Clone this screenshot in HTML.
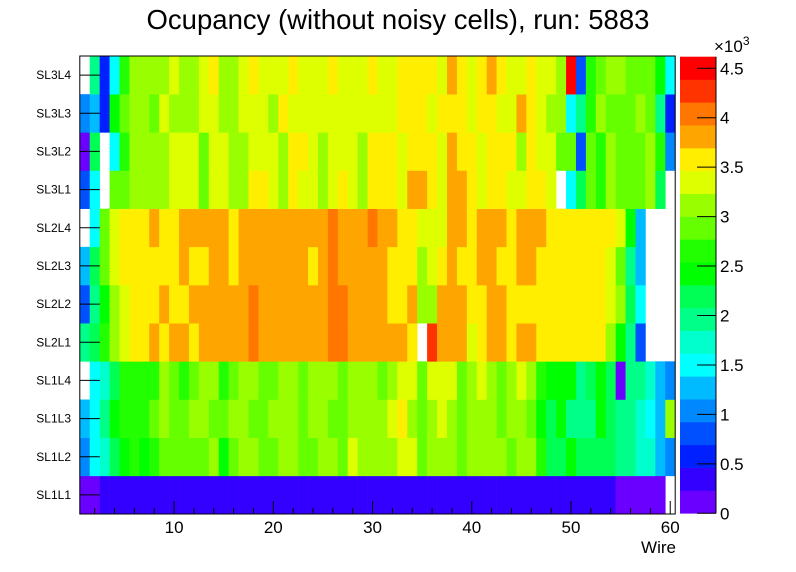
<!DOCTYPE html>
<html><head><meta charset="utf-8"><style>
html,body{margin:0;padding:0;background:#fff;width:796px;height:572px;overflow:hidden}
svg{display:block;font-family:"Liberation Sans",Arial,sans-serif}
</style></head><body>
<svg id="chart" width="796" height="572" viewBox="0 0 796 572">
<text x="398" y="29" text-anchor="middle" font-size="27.5">Ocupancy (without noisy cells), run: 5883</text>
<g id="cells"></g>
<g id="axes"></g>
<g id="pal"></g>
</svg>
<script>
const layers = ["SL1L1","SL1L2","SL1L3","SL1L4","SL2L1","SL2L2","SL2L3","SL2L4","SL3L1","SL3L2","SL3L3","SL3L4"];
const xTicks = [10,20,30,40,50,60];
const zTicks = [0,0.5,1,1.5,2,2.5,3,3.5,4,4.5];
const zMax = 4617;
const rowSL1L1 = [120,120,350,350,350,350,350,350,350,350,350,350,350,350,350,350,350,350,350,350,350,350,350,350,350,350,350,350,350,350,350,350,350,350,350,350,350,350,350,350,350,350,350,350,350,350,350,350,350,350,350,350,350,350,120,120,120,120,120,0];
const rowSL1L2 = [1040,1500,1730,2190,2420,2650,2420,2650,2890,2890,2890,2890,2890,3120,2420,2890,3120,3120,2890,2890,3120,3120,2890,2890,3120,3120,2890,3350,3120,3120,3120,3120,3350,3350,2890,3120,3120,3120,2890,3120,3120,3120,3120,2890,3120,3120,2650,2190,2190,2420,2190,2190,2190,2190,1960,1960,1730,1730,1270,1040];
const rowSL1L3 = [1270,1500,1960,2420,2650,2650,2650,2890,3120,2890,2890,3120,3120,2890,2890,3120,3120,2890,2890,3120,3120,3120,2890,3120,3120,2890,2890,3120,3120,3120,3120,3350,3580,3120,2890,3120,3350,3120,2890,3120,3120,3120,2890,3120,3120,2890,2420,2190,2420,1960,1960,1960,2420,2190,1960,1960,1730,1500,1270,3120];
const rowSL1L4 = [0,1500,1730,2190,2650,2650,2650,2650,3120,2890,2650,2890,3120,3120,2650,2890,3120,3120,2890,2890,3120,3120,2890,3120,3120,3120,2890,3120,3120,3120,2890,3120,3350,3350,2890,3350,3350,3350,2890,3120,3350,3120,2890,3120,3350,3120,2650,2420,2420,2420,1960,2190,2420,2190,120,1960,1960,1730,1270,1040];
const rowSL2L1 = [1960,2190,2650,3120,3350,3580,3580,3810,3580,3810,3810,3580,3810,3810,3810,3810,3810,4040,3810,3810,3810,3810,3810,3810,3810,4040,4040,3810,3810,3810,3810,3810,3810,3580,0,4270,3810,3810,3810,3350,3580,3810,3810,3580,3810,3810,3580,3580,3580,3580,3580,3580,3580,3120,2420,1960,810,0,0,0];
const rowSL2L2 = [810,1960,2420,3120,3350,3580,3580,3580,3810,3580,3580,3810,3810,3810,3810,3810,3810,4040,3810,3810,3810,3810,3810,3810,3810,4040,4040,3810,3810,3810,3810,3580,3580,3810,3120,3120,3810,3810,3810,3580,3580,3810,3810,3580,3580,3580,3580,3580,3580,3580,3580,3580,3580,3350,3120,2190,1500,0,0,0];
const rowSL2L3 = [1270,2190,2890,3350,3580,3580,3580,3580,3580,3580,3810,3580,3580,3810,3810,3580,3810,3810,3810,3810,3810,3810,3810,3580,3810,4040,3810,3810,3810,3810,3810,3580,3580,3580,3120,3350,3580,3810,3580,3580,3810,3810,3580,3580,3810,3810,3580,3580,3580,3580,3580,3580,3580,3350,2890,1960,1270,0,0,0];
const rowSL2L4 = [0,1500,2890,3350,3580,3580,3580,3810,3580,3580,3810,3810,3810,3810,3810,3580,3810,3810,3810,3810,3810,3810,3810,3810,3810,4040,3810,3810,3810,4040,3810,3810,3580,3580,3350,3350,3350,3810,3810,3580,3810,3810,3810,3580,3810,3810,3810,3580,3580,3580,3580,3580,3580,3580,3350,2420,1270,0,0,0];
const rowSL3L1 = [810,1500,0,2890,2890,3120,3120,3120,3120,3350,3350,3350,2890,3350,3350,3120,3120,3580,3580,3350,3120,3580,3350,3350,3120,3350,3580,3350,3120,3580,3580,3580,3350,3810,3810,3580,3350,3810,3810,3580,3350,3580,3580,3350,3350,3580,3580,3350,0,1500,2190,2890,2650,3120,2890,2890,2890,3120,2190,0];
const rowSL3L2 = [120,2190,0,1500,2650,3120,3120,3120,3120,3350,3350,3350,2890,3350,3350,3120,3120,3350,3350,3350,3120,3580,3580,3350,3120,3350,3350,3350,3120,3580,3580,3580,3350,3580,3580,3580,3350,3810,3580,3580,3350,3580,3580,3580,3120,3580,3350,3350,2890,2890,810,2890,2650,3120,2890,2890,2890,3120,2650,1040];
const rowSL3L3 = [1040,1270,580,2420,2890,3120,3120,2890,3350,3120,3120,3120,3350,3350,3120,3120,3350,3350,3350,3120,3580,3350,3350,3350,3350,3350,3350,3350,3350,3350,3350,3350,3580,3580,3580,3350,3580,3580,3580,3350,3580,3580,3350,3350,3810,3580,3350,3120,3120,1500,1960,2650,3120,2890,2890,2890,3120,2890,1960,580];
const rowSL3L4 = [0,1960,580,1500,2650,3120,3120,3120,3120,3350,3120,3120,3350,3580,3120,3120,3350,3580,3350,3350,3350,3580,3350,3350,3350,3580,3350,3350,3350,3580,3350,3350,3580,3580,3580,3580,3350,3810,3580,3350,3580,3810,3580,3350,3350,3580,3350,3350,3120,4500,810,2650,2890,3120,3120,2890,2890,2890,2420,1500];
const zRows = [rowSL1L1,rowSL1L2,rowSL1L3,rowSL1L4,rowSL2L1,rowSL2L2,rowSL2L3,rowSL2L4,rowSL3L1,rowSL3L2,rowSL3L3,rowSL3L4];

const palette = ["#6a00ff","#3300ff","#0020ff","#0050ff","#0088ff","#00bbff","#00ffff","#00ffcc","#00ff88","#00ff55","#00ff00","#22ff00","#66ff00","#99ff00","#ddff00","#ffee00","#ffa500","#ff7700","#ff3300","#ff0000"];
const NS = "http://www.w3.org/2000/svg";
const X0 = 79.8, X1 = 675.2, Y0 = 56, Y1 = 514;
const nx = 60, ny = layers.length;
const bw = (X1 - X0) / nx;
const xScale = w => X0 + (w - 0.5) * bw;
const yScale = r => Y1 - r * (Y1 - Y0) / ny;
const PY0 = 56.7, PY1 = 513.3;
const zScale = v => PY1 - v / zMax * (PY1 - PY0);
function colorOf(v){ let i = Math.floor(v / zMax * 20); if (i > 19) i = 19; if (i < 0) i = 0; return palette[i]; }
function mk(tag, attrs, parent){ const e = document.createElementNS(NS, tag); for (const k in attrs) e.setAttribute(k, attrs[k]); parent.appendChild(e); return e; }

const cells = document.getElementById("cells");
zRows.forEach((row, r) => {
  row.forEach((v, i) => {
    if (v <= 0) return;
    const x = xScale(i + 1) - bw / 2;
    const rect = mk("rect", {x: x, y: yScale(r + 1), width: bw + 0.3, height: yScale(r) - yScale(r + 1) + 0.3, fill: colorOf(v)}, cells);
    
    
  });
});

const axes = document.getElementById("axes");
const frame = mk("rect", {x: X0, y: Y0, width: X1 - X0, height: Y1 - Y0, fill: "none", stroke: "#000", "stroke-width": 1}, axes);


for (let w = 2; w <= 60; w += 2) {
  const major = (w % 10 === 0);
  const t = mk("line", {x1: xScale(w), x2: xScale(w), y1: Y1, y2: Y1 - (major ? 13 : 6), stroke: "#000", "stroke-width": 1}, axes);
  
  
}
xTicks.forEach(w => {
  const t = mk("text", {x: xScale(w), y: Y1 + 19, "text-anchor": "middle", "font-size": 17}, axes);
  t.textContent = w;
  
  
});
const xt = mk("text", {x: 676, y: 553, "text-anchor": "end", "font-size": 17}, axes);
xt.textContent = "Wire";


layers.forEach((l, r) => {
  const yc = (yScale(r) + yScale(r + 1)) / 2;
  const tk = mk("line", {x1: X0, x2: X0 + 20, y1: yc, y2: yc, stroke: "#000", "stroke-width": 1}, axes);
  
  
  const t = mk("text", {x: 71, y: yc + 4, "text-anchor": "end", "font-size": 12}, axes);
  t.textContent = l;
  
  
});

const pal = document.getElementById("pal");
const PX0 = 680, PX1 = 716;
palette.forEach((c, i) => {
  const ya = zScale((i + 1) * zMax / 20), yb = zScale(i * zMax / 20);
  const b = mk("rect", {x: PX0, y: ya, width: PX1 - PX0, height: yb - ya + 0.3, fill: c}, pal);
  
  
});
const pline = mk("line", {x1: PX1, x2: PX1, y1: PY0, y2: PY1, stroke: "#000", "stroke-width": 1}, pal);


zTicks.forEach(v => {
  const y = zScale(v * 1000);
  const tk = mk("line", {x1: PX1 - 19, x2: PX1, y1: y, y2: y, stroke: "#000", "stroke-width": 1}, pal);
  
  
  const t = mk("text", {x: 720, y: y + 6, "font-size": 17}, pal);
  t.textContent = v;
  
  
});
const ex = mk("text", {x: 714, y: 52, "font-size": 17}, pal);
ex.innerHTML = '×10<tspan dy="-7" font-size="12">3</tspan>';


</script>
</body></html>
